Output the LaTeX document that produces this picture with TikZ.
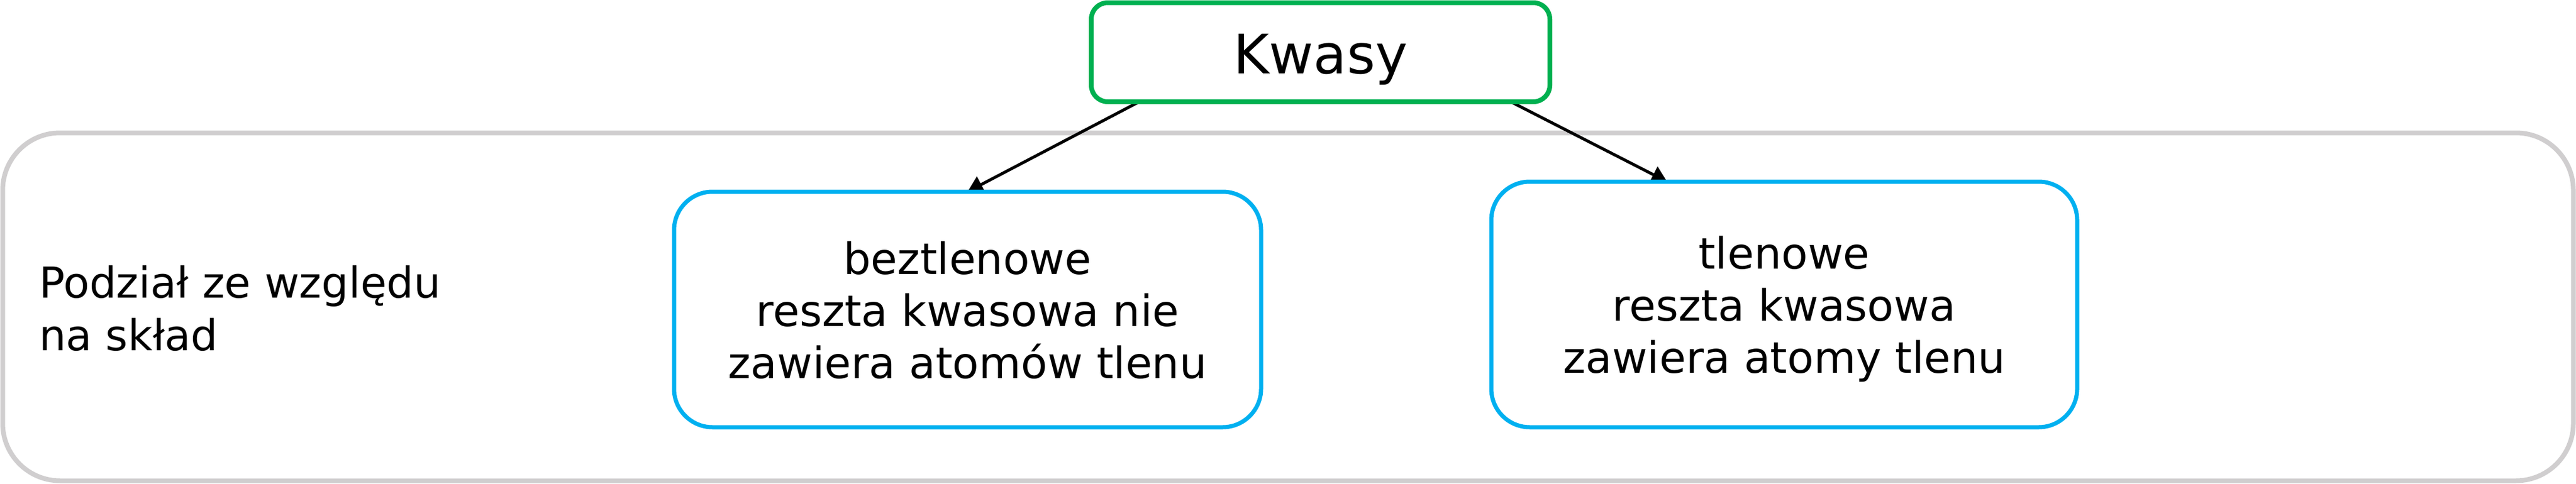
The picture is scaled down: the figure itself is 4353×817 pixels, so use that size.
\documentclass[tikz,border=0pt]{standalone}
\usepackage{fontspec}
\setmainfont{DejaVu Sans}
\usetikzlibrary{arrows.meta,calc}
\definecolor{kgreen}{HTML}{00B050}
\definecolor{kblue}{HTML}{00B0F0}
\definecolor{kgray}{HTML}{D0CECF}
\pgfdeclarelayer{back}
\pgfdeclarelayer{mid}
\pgfsetlayers{back,mid,main}
\begin{document}
\begin{tikzpicture}[x=1pt,y=-1pt,
  groupbox/.style={draw=kgray, line width=8pt, rounded corners=97pt, fill=white,
    minimum width=4344pt, minimum height=588pt, inner sep=0pt, outer sep=0pt},
  topbox/.style={draw=kgreen, line width=8pt, rounded corners=28pt, fill=white,
    minimum width=775pt, minimum height=167.5pt, inner sep=0pt, outer sep=0pt},
  kindbox/.style={draw=kblue, line width=7pt, rounded corners=65pt, fill=white,
    inner sep=0pt, outer sep=0pt},
  boxtext/.style={align=center, inner sep=0pt, anchor=north,
    font=\fontsize{73pt}{88pt}\selectfont},
  link/.style={line width=5pt, draw=black, -{Triangle[length=26pt,width=30pt]}}]
\useasboundingbox (0,0) rectangle (4353,817);
\begin{pgfonlayer}{back}
\node[groupbox] (group) at (2176.5,518.5) {};
\end{pgfonlayer}
\node[anchor=north west, align=left, inner sep=0pt,
  font=\fontsize{72pt}{89pt}\selectfont] (label) at (66,443)
  {\rule{0pt}{60pt}Podział ze względu\\na skład};
\node[topbox, font=\fontsize{92pt}{110pt}\selectfont, text height=92pt, text depth=20pt]
  (kwasy) at (2231.5,88.25) {Kwasy};
\node[kindbox, minimum width=992pt, minimum height=398pt] (beztl) at (1635,523) {};
\node[kindbox, minimum width=990pt, minimum height=415pt] (tlen) at (3015,514.5) {};
\node[boxtext] (beztltext) at ($(beztl.center)+(0,-120)$)
  {\rule{0pt}{60pt}beztlenowe\\reszta kwasowa nie\\zawiera atomów tlenu};
\node[boxtext] (tlentext) at ($(tlen.center)+(0,-120.5)$)
  {\rule{0pt}{60pt}tlenowe\\reszta kwasowa\\zawiera atomy tlenu};
\begin{pgfonlayer}{mid}
\draw[link] ($(kwasy.south west)+(81,0)$) -- ($(beztl.north west)+(496,0)$);
\draw[link] ($(kwasy.south west)+(709,0)$) -- ($(tlen.north west)+(297,0)$);
\end{pgfonlayer}
\end{tikzpicture}
\end{document}
